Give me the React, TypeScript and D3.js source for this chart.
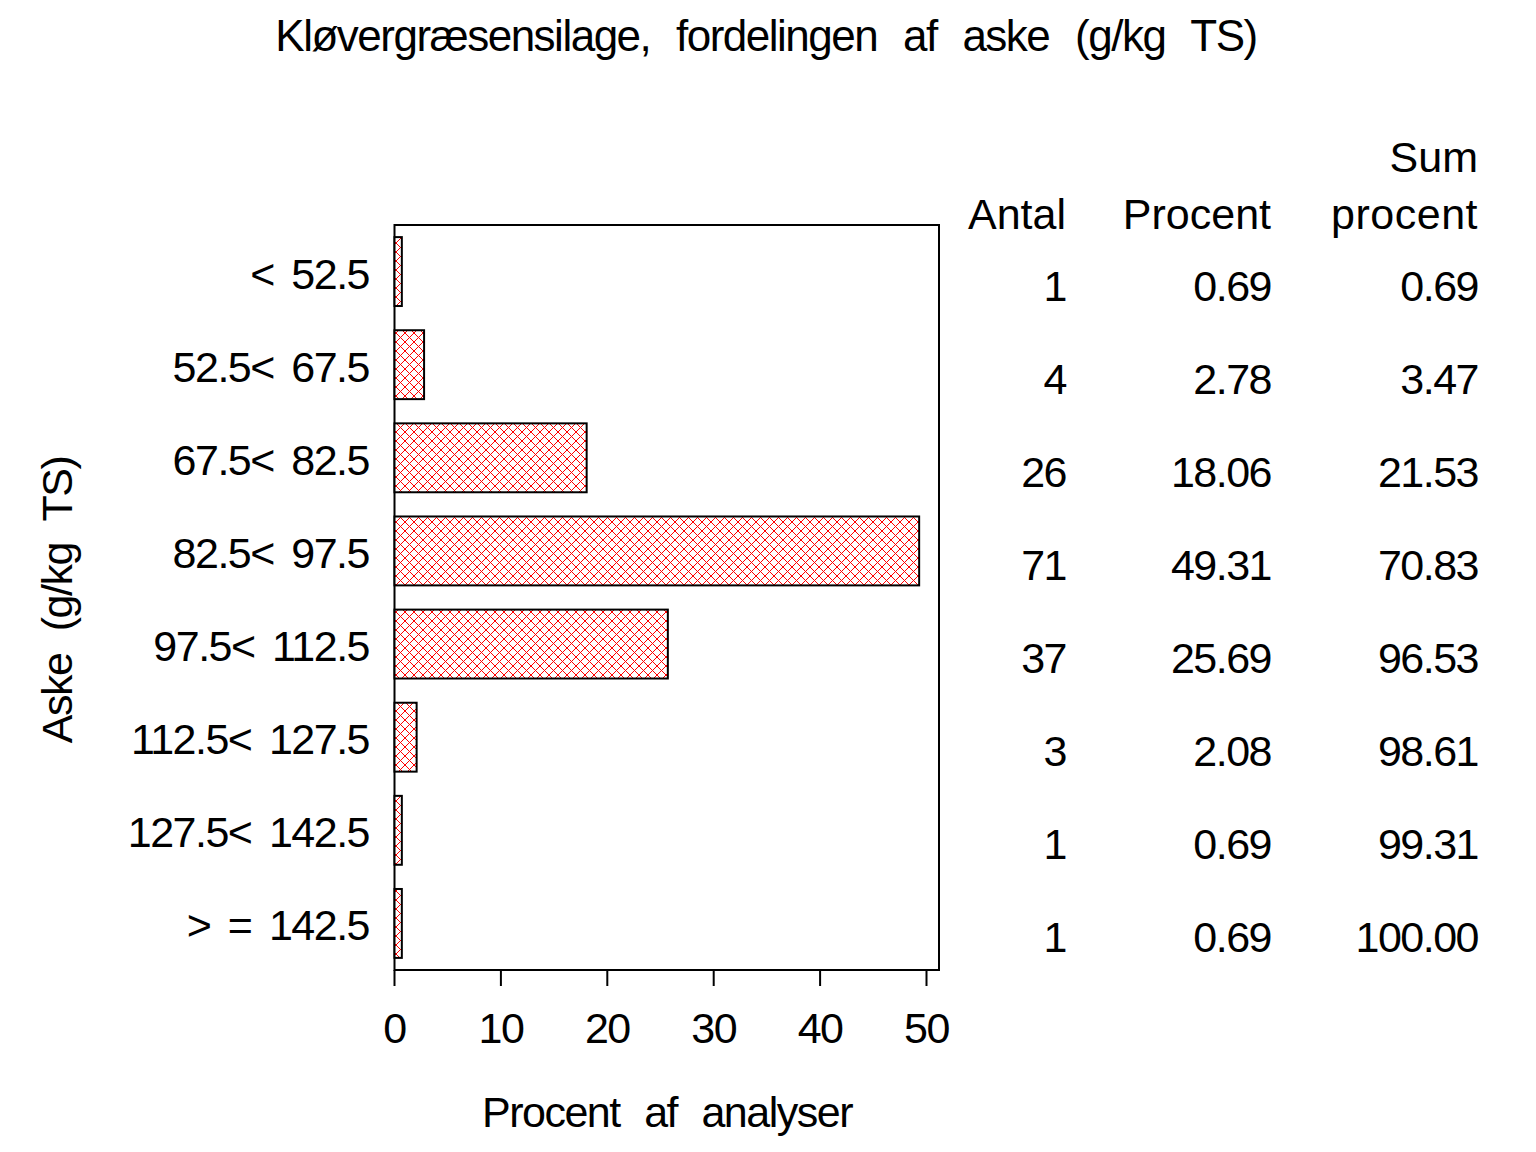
import React from "react";
import * as d3 from "d3";

const categories = ["< 52.5", "52.5< 67.5", "67.5< 82.5", "82.5< 97.5", "97.5< 112.5", "112.5< 127.5", "127.5< 142.5", "> = 142.5"];
const antal = [1, 4, 26, 71, 37, 3, 1, 1];
const procent = [0.69, 2.78, 18.06, 49.31, 25.69, 2.08, 0.69, 0.69];
const sumProcent = [0.69, 3.47, 21.53, 70.83, 96.53, 98.61, 99.31, 100.0];
const xTicks = [0, 10, 20, 30, 40, 50];

const W = 1536, H = 1152;
const left = 394.5, right = 939, top = 225, bottom = 970;
const font = "Liberation Sans, Arial, sans-serif";

export default function App() {
  const x = d3.scaleLinear().domain([0, 50]).range([left, 926.5]);
  const y = d3.scaleBand<string>().domain(categories).range([top, bottom]).paddingInner(0.26).paddingOuter(0.13);
  const yc = (c: string) => (y(c) as number) + y.bandwidth() / 2;
  const fs = 43;
  const ls = -1.5;
  return (
    <svg width={W} height={H} style={{ position: "absolute", left: 0, top: 0, background: "#fff" }} fontFamily={font}>
      <defs>
        <pattern id="hatch" width={9} height={9} patternUnits="userSpaceOnUse">
          <rect width={9} height={9} fill="#fff" />
          <path d="M0,0 L9,9 M9,0 L0,9" stroke="#ff0000" strokeWidth={1} shapeRendering="crispEdges" />
        </pattern>
      </defs>
      <rect width={W} height={H} fill="#fff" />
      <text x={766} y={51} textAnchor="middle" fontSize={44} letterSpacing={ls} wordSpacing={15}>Kløvergræsensilage, fordelingen af aske (g/kg TS)</text>
      <rect x={left} y={top} width={right - left} height={bottom - top} fill="none" stroke="#000" strokeWidth={2} />
      {categories.map((c, i) => (
        <g key={c}>
          <rect x={x(0)} y={y(c)} width={x(procent[i]) - x(0)} height={y.bandwidth()} fill="url(#hatch)" stroke="#000" strokeWidth={2} />
          <text x={369} y={yc(c) + 17} textAnchor="end" fontSize={fs} letterSpacing={ls} wordSpacing={7}>{c}</text>
          <text x={1066} y={yc(c) + 29} textAnchor="end" fontSize={fs} letterSpacing={ls}>{antal[i]}</text>
          <text x={1271} y={yc(c) + 29} textAnchor="end" fontSize={fs} letterSpacing={ls}>{procent[i].toFixed(2)}</text>
          <text x={1478} y={yc(c) + 29} textAnchor="end" fontSize={fs} letterSpacing={ls}>{sumProcent[i].toFixed(2)}</text>
        </g>
      ))}
      {xTicks.map((t) => (
        <g key={t}>
          <line x1={x(t)} x2={x(t)} y1={bottom} y2={986} stroke="#000" strokeWidth={2} />
          <text x={x(t)} y={1043} textAnchor="middle" fontSize={fs} letterSpacing={ls}>{t}</text>
        </g>
      ))}
      <text x={667} y={1127} textAnchor="middle" fontSize={fs} letterSpacing={ls} wordSpacing={14}>Procent af analyser</text>
      <text transform={`translate(72,600) rotate(-90)`} textAnchor="middle" fontSize={fs} letterSpacing={ls} wordSpacing={12}>Aske (g/kg TS)</text>
      <text x={1066} y={229} textAnchor="end" fontSize={fs} letterSpacing={0}>Antal</text>
      <text x={1271} y={229} textAnchor="end" fontSize={fs} letterSpacing={0}>Procent</text>
      <text x={1478} y={229} textAnchor="end" fontSize={fs} letterSpacing={0.5}>procent</text>
      <text x={1478} y={172} textAnchor="end" fontSize={fs} letterSpacing={0}>Sum</text>
    </svg>
  );
}
